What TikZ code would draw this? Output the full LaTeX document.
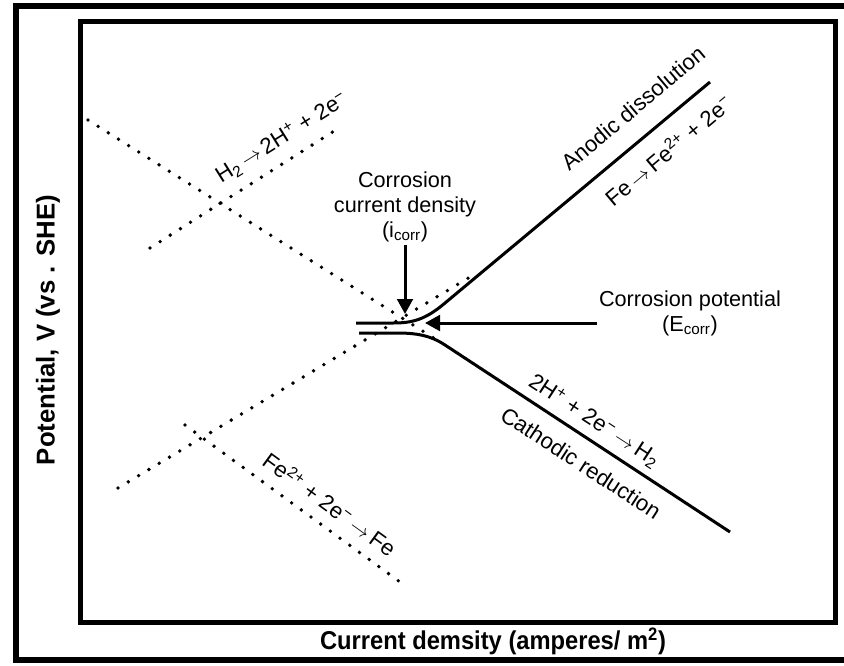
\documentclass[tikz,border=0pt]{standalone}
\usepackage{fontspec}
\setmainfont{Liberation Sans}
\usetikzlibrary{arrows.meta, positioning, calc}
\tikzstyle{frame} = [line width=0.18cm]
\tikzstyle{panel} = [line width=0.15cm]
\tikzstyle{curve} = [line width=0.09cm, line join=round]
\tikzstyle{tafel} = [line width=0.115cm, line cap=round, dash pattern=on 0pt off 0.36cm]
\tikzstyle{arrow} = [line width=0.09cm, -{Triangle[length=0.45cm, width=0.47cm]}]
\tikzstyle{note} = [font=\fontsize{18.5}{21.5}\selectfont, inner sep=2pt]
\tikzstyle{rxn} = [font=\fontsize{19}{22}\selectfont, inner sep=1pt]
\tikzstyle{axis} = [font=\bfseries\fontsize{22}{26}\selectfont, inner sep=1pt]
\newcommand{\yields}{\,\(\rightarrow\)\,}

\begin{document}
\begin{tikzpicture}[x=0.03cm, y=-0.03cm]
\useasboundingbox (0,0) rectangle (844,665);

% Frames
\draw [frame] (848,6) -- (16,6) -- (16,660) -- (848,660);
\draw [panel] (80,21) rectangle (835,622);

% Axis titles
\node (ylabel) [axis, rotate=90] at (48,330) {Potential, V (vs . SHE)};
\node (xlabel) [axis, xscale=0.92] at (493,641) {Current demsity (amperes/ m\textsuperscript{2})};

% Tafel extrapolations
\draw [tafel] (88,120) -- (440,342);
\draw [tafel] (118,488) -- (475,274);
\draw [tafel] (150,248) -- (342,126);
\draw [tafel] (185,425) -- (400,582);

% Polarization curves
\draw [curve] (356,323) -- (393,323) .. controls (412,323) and (425,320) .. (445,303) -- (710,82);
\draw [curve] (359,333) -- (397,333) .. controls (415,333) and (430,335) .. (445,345) -- (730,532);

% Corrosion point
\coordinate (corr) at (405,314);
\coordinate (corrE) at (425,323);
\coordinate (ecorrTail) at (597,323);

% Labels
\node (icorr) [note, align=center] at (405,207) {Corrosion\\current density\\(i\textsubscript{corr})};
\node (ecorr) [note, align=center] at (690,313) {Corrosion potential\\(E\textsubscript{corr})};
\node (h2ox) [rxn, rotate=32] at (282,138) {H\textsubscript{2}\yields2H\textsuperscript{+} + 2e\textsuperscript{−}};
\node (anodic) [rxn, rotate=40] at (633,108) {Anodic dissolution};
\node (feox) [rxn, rotate=40] at (668,150) {Fe\yields Fe\textsuperscript{2+} + 2e\textsuperscript{−}};
\node (h2red) [rxn, rotate=-33] at (594,421) {2H\textsuperscript{+} + 2e\textsuperscript{−}\yields H\textsubscript{2}};
\node (cathodic) [rxn, rotate=-33] at (581,463) {Cathodic reduction};
\node (fered) [rxn, rotate=-36] at (330,504) {Fe\textsuperscript{2+} + 2e\textsuperscript{−}\yields Fe};

% Arrows
\draw [arrow] (icorr) -- (corr);
\draw [arrow] (ecorrTail) -- (corrE);

\end{tikzpicture}
\end{document}
